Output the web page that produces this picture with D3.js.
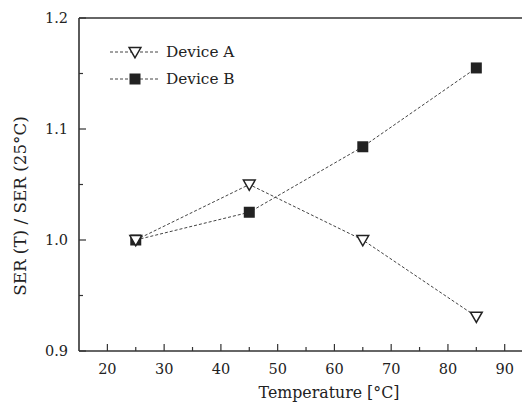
<!DOCTYPE html>
<html>
<head>
<meta charset="utf-8">
<script src="https://cdn.jsdelivr.net/npm/d3@7"></script>
<style>
  body { margin: 0; background: #fff; }
  svg text { fill: #222; }
</style>
</head>
<body>
<div id="chart"></div>
<script>
const w = 522;
const h = 405;
const margin = {top: 18, left: 79, bottom: 54};

// data
const temps = [25, 45, 65, 85];
const deviceA = [1.0, 1.05, 1.0, 0.931];
const deviceB = [1.0, 1.025, 1.084, 1.155];
const xTicks = [20, 30, 40, 50, 60, 70, 80, 90];
const xMinor = [25, 35, 45, 55, 65, 75, 85];
const yTicks = [0.9, 1.0, 1.1, 1.2];
const yMinor = [0.95, 1.05, 1.15];

const serif = "'DejaVu Serif', serif";

const svg = d3.select("#chart")
  .append("svg")
  .attr("width", w)
  .attr("height", h)
  .style("font-family", serif);

const x = d3.scaleLinear()
  .domain([15, 15 + (w - margin.left) / 5.676])
  .range([margin.left, w]);

const y = d3.scaleLinear()
  .domain([0.9, 1.2])
  .range([h - margin.bottom, margin.top]);

const axisColor = "#333";

// frame: top line
svg.append("line")
  .attr("x1", margin.left).attr("x2", w)
  .attr("y1", y(1.2)).attr("y2", y(1.2))
  .attr("stroke", axisColor).attr("stroke-width", 1.6);

// x axis (ticks point inward)
const xAxis = svg.append("g")
  .attr("transform", "translate(0," + y(0.9) + ")");
xAxis.append("line")
  .attr("x1", margin.left).attr("x2", w)
  .attr("stroke", axisColor).attr("stroke-width", 1.6);
xAxis.selectAll(".xmaj").data(xTicks).enter().append("line")
  .attr("x1", d => x(d)).attr("x2", d => x(d))
  .attr("y1", 0).attr("y2", -7)
  .attr("stroke", axisColor).attr("stroke-width", 1.2);
xAxis.selectAll(".xmin").data(xMinor).enter().append("line")
  .attr("x1", d => x(d)).attr("x2", d => x(d))
  .attr("y1", 0).attr("y2", -4)
  .attr("stroke", axisColor).attr("stroke-width", 1.2);
xAxis.selectAll(".xlab").data(xTicks).enter().append("text")
  .attr("x", d => x(d)).attr("y", 23)
  .attr("text-anchor", "middle")
  .attr("font-size", 14.5)
  .text(d => d);

// y axis
const yAxis = svg.append("g")
  .attr("transform", "translate(" + margin.left + ",0)");
yAxis.append("line")
  .attr("y1", y(0.9)).attr("y2", y(1.2))
  .attr("stroke", axisColor).attr("stroke-width", 1.6);
yAxis.selectAll(".ymaj").data(yTicks).enter().append("line")
  .attr("y1", d => y(d)).attr("y2", d => y(d))
  .attr("x1", 0).attr("x2", 7)
  .attr("stroke", axisColor).attr("stroke-width", 1.2);
yAxis.selectAll(".ymin").data(yMinor).enter().append("line")
  .attr("y1", d => y(d)).attr("y2", d => y(d))
  .attr("x1", 0).attr("x2", 4)
  .attr("stroke", axisColor).attr("stroke-width", 1.2);
yAxis.selectAll(".ylab").data(yTicks).enter().append("text")
  .attr("x", -11).attr("y", d => y(d))
  .attr("dy", "0.35em")
  .attr("text-anchor", "end")
  .attr("font-size", 14.5)
  .text(d => d.toFixed(1));

// axis titles
svg.append("text")
  .attr("x", 329).attr("y", 398)
  .attr("text-anchor", "middle")
  .attr("font-size", 15.8)
  .text("Temperature [\u00B0C]");

svg.append("text")
  .attr("transform", "translate(26," + 206 + ") rotate(-90)")
  .attr("text-anchor", "middle")
  .attr("font-size", 16.8)
  .text("SER (T) / SER (25\u00B0C)");

// lines
const line = d3.line()
  .x(d => x(d[0]))
  .y(d => y(d[1]));

const seriesA = temps.map((t, i) => [t, deviceA[i]]);
const seriesB = temps.map((t, i) => [t, deviceB[i]]);

[seriesA, seriesB].forEach(s => {
  svg.append("path")
    .attr("d", line(s))
    .attr("fill", "none")
    .attr("stroke", "#444")
    .attr("stroke-width", 1)
    .attr("stroke-dasharray", "3,2");
});

const tri = d3.symbol().type(d3.symbolTriangle).size(60);

function drawSquare(g, cx, cy) {
  g.append("rect")
    .attr("x", cx - 5.5).attr("y", cy - 5.5)
    .attr("width", 11).attr("height", 11)
    .attr("fill", "#222");
}
function drawTriangle(g, cx, cy) {
  g.append("path")
    .attr("d", tri())
    .attr("transform", "translate(" + cx + "," + (cy - 1) + ") rotate(180)")
    .attr("fill", "#fff")
    .attr("stroke", "#222")
    .attr("stroke-width", 1.5);
}

seriesB.forEach(d => drawSquare(svg, x(d[0]), y(d[1])));
seriesA.forEach(d => drawTriangle(svg, x(d[0]), y(d[1])));

// legend
const legend = svg.append("g").attr("id", "legend");
const legendItems = [
  {name: "Device A", y: 52, draw: drawTriangle},
  {name: "Device B", y: 79, draw: drawSquare}
];
legendItems.forEach(it => {
  legend.append("line")
    .attr("x1", 110).attr("x2", 160)
    .attr("y1", it.y).attr("y2", it.y)
    .attr("stroke", "#444")
    .attr("stroke-dasharray", "3,2");
  it.draw(legend, 135, it.y);
  legend.append("text")
    .attr("x", 166).attr("y", it.y)
    .attr("dy", "0.35em")
    .attr("font-size", 15.3)
    .text(it.name);
});
</script>
</body>
</html>
